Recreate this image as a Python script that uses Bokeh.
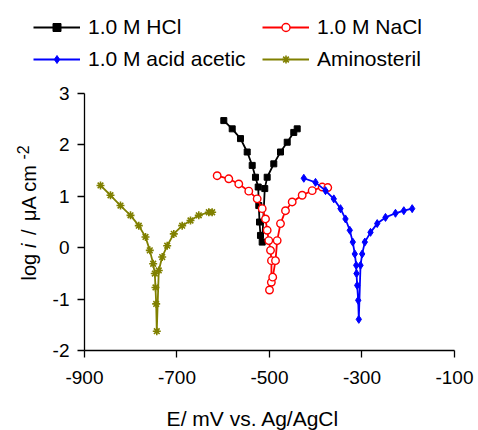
import math

from bokeh.embed import file_html
from bokeh.models import FixedTicker, Label, Legend, LegendItem, Range1d
from bokeh.plotting import figure
from bokeh.resources import INLINE

# Potentiodynamic polarisation (Tafel) curves: E in mV vs Ag/AgCl, log i in log(uA cm^-2)
hcl_E = [-598.8, -580.6, -562.7, -548.2, -537.4, -530.3, -524.4, -523.1, -521.6,
         -519.5, -515.8, -510.2, -505.0, -490.7, -476.2, -461.7, -447.5, -440.1]
hcl_log = [2.47, 2.31, 2.12, 1.86, 1.60, 1.37, 1.18, 0.82, 0.50,
           0.24, 0.11, 1.15, 1.37, 1.63, 1.86, 2.05, 2.24, 2.31]

nacl_E = [-613.1, -588.0, -566.4, -544.8, -526.6, -515.8, -508.6, -505.0, -501.5,
          -497.8, -495.7, -496.0, -500.0, -493.0, -487.0, -483.4, -476.2, -465.4,
          -450.9, -429.3, -407.7, -386.0, -374.0]
nacl_log = [1.40, 1.34, 1.24, 1.10, 0.95, 0.76, 0.56, 0.34, 0.14,
            -0.05, -0.25, -0.67, -0.82, -0.57, -0.25, 0.14, 0.47, 0.72,
            0.89, 1.02, 1.11, 1.18, 1.17]

acetic_E = [-425.8, -400.5, -378.9, -361.0, -346.5, -335.7, -326.4, -319.9, -315.6,
            -312.5, -311.9, -310.4, -308.2, -306.9, -303.2, -299.6, -293.9, -281.6,
            -267.1, -249.2, -227.6, -209.6, -191.5]
acetic_log = [1.35, 1.27, 1.11, 0.95, 0.76, 0.56, 0.34, 0.11, -0.12,
              -0.34, -0.50, -0.73, -1.02, -1.39, -0.34, -0.12, 0.11, 0.30,
              0.47, 0.59, 0.67, 0.72, 0.76]

amino_E = [-865.4, -843.8, -822.2, -800.5, -782.6, -768.1, -758.8, -751.5, -748.0,
           -746.5, -745.0, -743.7, -739.4, -732.0, -721.2, -706.9, -688.8, -670.8,
           -652.9, -631.2, -624.0]
amino_log = [1.21, 1.02, 0.82, 0.63, 0.43, 0.21, -0.05, -0.31, -0.50,
             -0.77, -1.09, -1.62, -0.44, -0.18, 0.04, 0.27, 0.43, 0.53,
             0.63, 0.69, 0.69]

x_ticks = [-900, -700, -500, -300, -100]
y_ticks = [-2, -1, 0, 1, 2, 3]
x_bounds = (-900, -100)
y_bounds = (-2, 3)

FONT = "Liberation Sans"

# The frame spans the whole canvas; the axes sit at fixed data locations
# inside it, so the legend and the axis titles are not clipped away.
p = figure(width=478, height=430, output_backend="svg", toolbar_location=None,
           x_range=Range1d(-1081.6, -48.1), y_range=Range1d(-3.548, 4.802),
           min_border=0)
p.xgrid.visible = False
p.ygrid.visible = False
p.outline_line_color = None
p.background_fill_color = "white"
p.border_fill_color = "white"

p.xaxis.fixed_location = y_bounds[0]
p.yaxis.fixed_location = x_bounds[0]
p.xaxis.bounds = x_bounds
p.yaxis.bounds = y_bounds

for ax, ticks in ((p.xaxis, x_ticks), (p.yaxis, y_ticks)):
    ax.ticker = FixedTicker(ticks=ticks)
    ax.major_label_overrides = {t: str(t) for t in ticks}
    ax.minor_tick_line_color = None
    ax.major_tick_in = 0
    ax.major_tick_out = 7
    ax.axis_line_color = "black"
    ax.axis_line_width = 1.3
    ax.major_tick_line_color = "black"
    ax.major_tick_line_width = 1.3
    ax.major_label_text_font = FONT
    ax.major_label_text_font_size = "19px"
    ax.major_label_text_color = "black"

p.xaxis.major_label_standoff = 13
p.yaxis.major_label_standoff = 8

series = [
    ("1.0 M HCl", hcl_E, hcl_log, "#000000",
     dict(marker="square", size=6, fill_color="#000000")),
    ("1.0 M NaCl", nacl_E, nacl_log, "#ff0000",
     dict(marker="circle", size=7.5, fill_color="white", line_width=1.4)),
    ("1.0 M acid acetic", acetic_E, acetic_log, "#0000ff",
     dict(marker="diamond", size=8, fill_color="#0000ff")),
    ("Aminosteril", amino_E, amino_log, "#808000",
     dict(marker="asterisk", size=8, line_width=1.6)),
]

items = {}
for name, xs, ys, color, mk in series:
    rl = p.line(xs, ys, line_color=color, line_width=1.8)
    rs = p.scatter(xs, ys, line_color=color, **mk)
    items[name] = LegendItem(label=name, renderers=[rl, rs])

legend = Legend(
    items=[items["1.0 M HCl"], items["1.0 M acid acetic"],
           items["1.0 M NaCl"], items["Aminosteril"]],
    ncols=2, location=(33, 359),
    glyph_width=47, glyph_height=20, label_height=20, label_width=166,
    label_standoff=8, spacing=8, padding=0, margin=0,
    border_line_color=None, background_fill_alpha=0,
    label_text_font=FONT, label_text_font_size="21px",
    label_text_color="black",
)
p.add_layout(legend)

# x-axis title
p.add_layout(Label(x=-535.7, y=-3.315, text="E/ mV vs. Ag/AgCl",
                   text_align="center", text_baseline="middle",
                   text_font=FONT, text_font_size="21px", text_color="black"))

# y-axis title built from pieces: italic "i" and superscript exponent
ylab_x = -1018.9
pieces = [
    ("log", -0.635, "normal", "20px", ylab_x),
    ("i", -0.004, "italic", "20px", ylab_x),
    ("/", 0.249, "normal", "20px", ylab_x),
    ("\u03bcA cm", 0.52, "normal", "20px", ylab_x),
    ("-2", 1.715, "normal", "16px", -1034),
]
for txt, yy, style, size, xx in pieces:
    p.add_layout(Label(x=xx, y=yy, text=txt, angle=math.pi / 2,
                       text_align="left", text_baseline="alphabetic",
                       text_font=FONT, text_font_size=size,
                       text_font_style=style, text_color="black"))

open("out.html", "w").write(file_html(p, INLINE))
